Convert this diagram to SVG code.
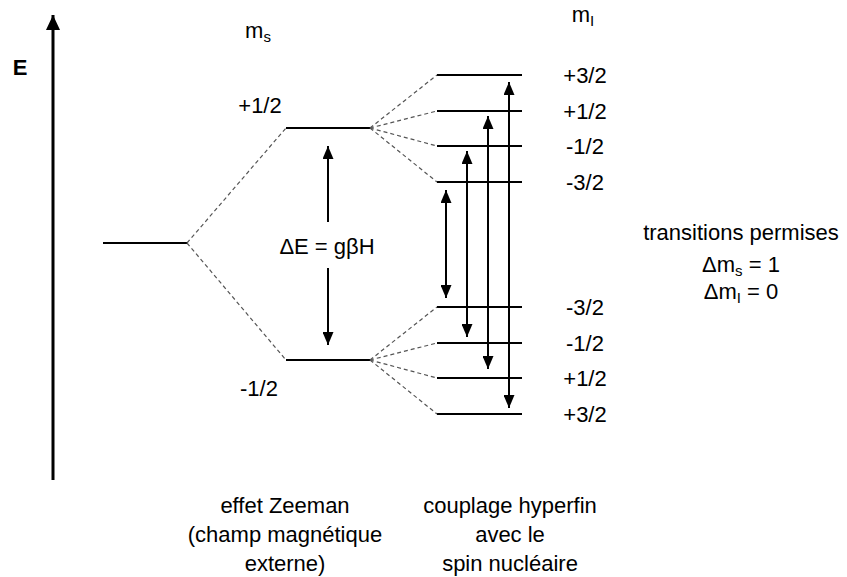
<svg xmlns="http://www.w3.org/2000/svg" width="847" height="577" viewBox="0 0 847 577">
<style>
text{font-family:"Liberation Sans",Arial,sans-serif;font-size:22px;fill:#000}
.c{text-anchor:middle}
.lvl{stroke:#000;stroke-width:2;fill:none}
.dash{stroke:#555;stroke-width:1.2;stroke-dasharray:4 3;fill:none}
.arr{stroke:#000;stroke-width:2;fill:none;marker-end:url(#ah)}
.darr{stroke:#000;stroke-width:2;fill:none;marker-start:url(#ahs);marker-end:url(#ah)}
.sub{font-size:15px}
</style>
<defs>
<marker id="ah" viewBox="0 0 13 11" refX="13" refY="5.5" markerWidth="13" markerHeight="11" markerUnits="userSpaceOnUse" orient="auto"><path d="M0,0 L13,5.5 L0,11 z" fill="#000"/></marker>
<marker id="ahs" viewBox="0 0 13 11" refX="0" refY="5.5" markerWidth="13" markerHeight="11" markerUnits="userSpaceOnUse" orient="auto"><path d="M13,0 L0,5.5 L13,11 z" fill="#000"/></marker>
<marker id="axh" viewBox="0 0 15 14" refX="15" refY="7" markerWidth="15" markerHeight="14" markerUnits="userSpaceOnUse" orient="auto"><path d="M0,0 L15,7 L0,14 z" fill="#000"/></marker>
</defs>
<g id="axis">
<line x1="53" y1="480" x2="53" y2="15" stroke="#000" stroke-width="3" marker-end="url(#axh)"/>
<text x="20" y="75" class="c" style="font-weight:bold;font-size:22px">E</text>
</g>
<g id="headers">
<text x="258" y="38" class="c">m<tspan class="sub" dy="4">s</tspan></text>
<text x="583" y="22" class="c">m<tspan class="sub" dy="4">I</tspan></text>
</g>
<g id="level-initial"><line class="lvl" x1="103" y1="243" x2="187" y2="243"/></g>
<g id="level-ms-plus">
<line class="lvl" x1="286" y1="128" x2="370" y2="128"/>
<text x="260" y="113" class="c">+1/2</text>
</g>
<g id="level-ms-minus">
<line class="lvl" x1="286" y1="360" x2="370" y2="360"/>
<text x="259" y="396" class="c">-1/2</text>
</g>
<g id="hf-upper">
<line class="lvl" x1="437" y1="75" x2="522" y2="75"/><text x="585" y="83" class="c">+3/2</text>
<line class="lvl" x1="437" y1="111" x2="522" y2="111"/><text x="585" y="119" class="c">+1/2</text>
<line class="lvl" x1="437" y1="146" x2="522" y2="146"/><text x="585" y="154" class="c">-1/2</text>
<line class="lvl" x1="437" y1="182" x2="522" y2="182"/><text x="585" y="190" class="c">-3/2</text>
</g>
<g id="hf-lower">
<line class="lvl" x1="437" y1="307" x2="522" y2="307"/><text x="585" y="315" class="c">-3/2</text>
<line class="lvl" x1="437" y1="343" x2="522" y2="343"/><text x="585" y="351" class="c">-1/2</text>
<line class="lvl" x1="437" y1="378" x2="522" y2="378"/><text x="585" y="386" class="c">+1/2</text>
<line class="lvl" x1="437" y1="414" x2="522" y2="414"/><text x="585" y="422" class="c">+3/2</text>
</g>
<g id="connectors">
<line class="dash" x1="187" y1="243" x2="286" y2="128"/>
<line class="dash" x1="187" y1="243" x2="286" y2="360"/>
<line class="dash" x1="370" y1="128" x2="437" y2="75"/>
<line class="dash" x1="370" y1="128" x2="437" y2="111"/>
<line class="dash" x1="370" y1="128" x2="437" y2="146"/>
<line class="dash" x1="370" y1="128" x2="437" y2="182"/>
<line class="dash" x1="370" y1="360" x2="437" y2="307"/>
<line class="dash" x1="370" y1="360" x2="437" y2="343"/>
<line class="dash" x1="370" y1="360" x2="437" y2="378"/>
<line class="dash" x1="370" y1="360" x2="437" y2="414"/>
<line class="arr" x1="328" y1="222" x2="328" y2="146"/>
<line class="arr" x1="328" y1="268" x2="328" y2="345"/>
<line class="darr" x1="446" y1="190" x2="446" y2="298"/>
<line class="darr" x1="467" y1="151" x2="467" y2="337"/>
<line class="darr" x1="488" y1="116" x2="488" y2="369"/>
<line class="darr" x1="509" y1="82" x2="509" y2="408"/>
</g>
<g id="deltaE"><text x="327" y="254" class="c">ΔE = gβH</text></g>
<g id="rules">
<text x="741" y="240" class="c">transitions permises</text>
<text x="741" y="272" class="c">Δm<tspan class="sub" dy="4">s</tspan><tspan dy="-4"> = 1</tspan></text>
<text x="741" y="299" class="c">Δm<tspan class="sub" dy="4">I</tspan><tspan dy="-4"> = 0</tspan></text>
</g>
<g id="captions">
<text x="285" y="513" class="c">effet Zeeman</text>
<text x="285" y="542" class="c">(champ magnétique</text>
<text x="285" y="571" class="c">externe)</text>
<text x="510" y="513" class="c">couplage hyperfin</text>
<text x="510" y="542" class="c">avec le</text>
<text x="510" y="571" class="c">spin nucléaire</text>
</g>
</svg>
